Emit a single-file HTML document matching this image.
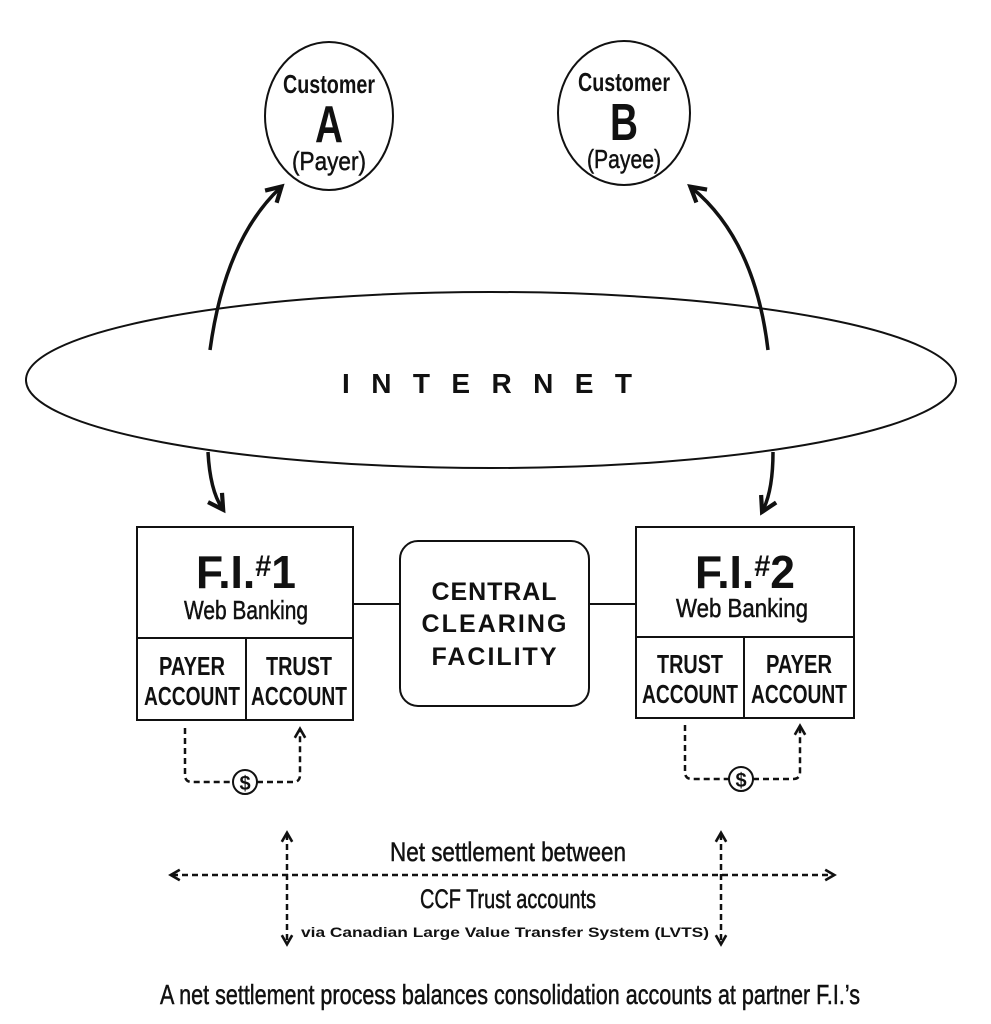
<!DOCTYPE html>
<html><head><meta charset="utf-8"><style>html,body{margin:0;padding:0;background:#fff}svg{display:block}text{font-family:"Liberation Sans",sans-serif;fill:#111}.n{font-weight:normal;stroke:#111;stroke-width:0.5}</style></head><body>
<svg width="991" height="1024" viewBox="0 0 991 1024" xmlns="http://www.w3.org/2000/svg">
<defs>
<marker id="ah" viewBox="0 0 10 10" refX="7" refY="5" markerWidth="6" markerHeight="6" orient="auto"><path d="M1,1 L8,5 L1,9" fill="none" stroke="#111" stroke-width="2"/></marker>
<marker id="sh" viewBox="0 0 10 10" refX="7" refY="5" markerWidth="13" markerHeight="13" orient="auto-start-reverse" markerUnits="userSpaceOnUse"><path d="M1,1 L8,5 L1,9" fill="none" stroke="#111" stroke-width="2"/></marker>
</defs>
<g fill="none" stroke="#111" stroke-width="2">
<ellipse cx="329" cy="116" rx="64" ry="74"/>
<ellipse cx="624" cy="113" rx="66" ry="72"/>
<ellipse cx="491" cy="380" rx="465" ry="88"/>
<path d="M210,350 Q225,240 280,188" stroke-width="3.5" marker-end="url(#ah)"/>
<path d="M768,350 Q755,240 692,188" stroke-width="3.5" marker-end="url(#ah)"/>
<path d="M208,452 Q210,490 222,508" stroke-width="3.5" marker-end="url(#ah)"/>
<path d="M773,452 Q773,490 763,510" stroke-width="3.5" marker-end="url(#ah)"/>
<rect x="137" y="527" width="216" height="193"/>
<line x1="137" y1="638" x2="353" y2="638"/><line x1="246" y1="638" x2="246" y2="720"/>
<rect x="636" y="527" width="218" height="191"/>
<line x1="636" y1="637" x2="854" y2="637"/><line x1="744" y1="637" x2="744" y2="718"/>
<rect x="400" y="541" width="189" height="165" rx="18"/>
<line x1="353" y1="604" x2="400" y2="604"/><line x1="589" y1="604" x2="636" y2="604"/>
<g stroke-dasharray="6,4" stroke-width="2.5">
<path d="M185,728 V775 Q185,782 192,782 H233"/>
<path d="M257,782 H293 Q300,782 300,775 V730" marker-end="url(#sh)"/>
<path d="M685,725 V772 Q685,779 692,779 H729"/>
<path d="M753,779 H793 Q800,779 800,772 V727" marker-end="url(#sh)"/>
<line x1="172" y1="875" x2="833" y2="875" marker-start="url(#sh)" marker-end="url(#sh)"/>
<line x1="287" y1="834" x2="287" y2="943" marker-start="url(#sh)" marker-end="url(#sh)"/>
<line x1="721" y1="834" x2="721" y2="943" marker-start="url(#sh)" marker-end="url(#sh)"/>
</g>
<circle cx="245" cy="782" r="12"/>
<circle cx="741" cy="779" r="12"/>
</g>
<g font-weight="bold" text-anchor="middle">
<text x="329" y="93" font-size="26" textLength="92" lengthAdjust="spacingAndGlyphs">Customer</text>
<text x="329" y="142" font-size="52" textLength="28" lengthAdjust="spacingAndGlyphs">A</text>
<text x="329" y="170" font-size="26" class="n" textLength="74" lengthAdjust="spacingAndGlyphs">(Payer)</text>
<text x="624" y="91" font-size="26" textLength="92" lengthAdjust="spacingAndGlyphs">Customer</text>
<text x="624" y="140" font-size="52" textLength="28" lengthAdjust="spacingAndGlyphs">B</text>
<text x="624" y="168" font-size="26" class="n" textLength="74" lengthAdjust="spacingAndGlyphs">(Payee)</text>
<text x="487" y="393" font-size="28" textLength="290" lengthAdjust="spacing">INTERNET</text>
<text x="246" y="588" font-size="46" textLength="100" lengthAdjust="spacingAndGlyphs">F.I.<tspan font-size="30" dy="-12">#</tspan><tspan dy="12">1</tspan></text>
<text x="246" y="619" font-size="26" class="n" textLength="124" lengthAdjust="spacingAndGlyphs">Web Banking</text>
<text x="745" y="588" font-size="46" textLength="100" lengthAdjust="spacingAndGlyphs">F.I.<tspan font-size="30" dy="-12">#</tspan><tspan dy="12">2</tspan></text>
<text x="742" y="617" font-size="26" class="n" textLength="132" lengthAdjust="spacingAndGlyphs">Web Banking</text>
<text x="192" y="675" font-size="26" textLength="66" lengthAdjust="spacingAndGlyphs">PAYER</text>
<text x="192" y="705" font-size="26" textLength="96" lengthAdjust="spacingAndGlyphs">ACCOUNT</text>
<text x="299" y="675" font-size="26" textLength="66" lengthAdjust="spacingAndGlyphs">TRUST</text>
<text x="299" y="705" font-size="26" textLength="96" lengthAdjust="spacingAndGlyphs">ACCOUNT</text>
<text x="690" y="673" font-size="26" textLength="66" lengthAdjust="spacingAndGlyphs">TRUST</text>
<text x="690" y="703" font-size="26" textLength="96" lengthAdjust="spacingAndGlyphs">ACCOUNT</text>
<text x="799" y="673" font-size="26" textLength="66" lengthAdjust="spacingAndGlyphs">PAYER</text>
<text x="799" y="703" font-size="26" textLength="96" lengthAdjust="spacingAndGlyphs">ACCOUNT</text>
<text x="494" y="600" font-size="25" textLength="125" lengthAdjust="spacing">CENTRAL</text>
<text x="494" y="632" font-size="25" textLength="145" lengthAdjust="spacing">CLEARING</text>
<text x="494" y="665" font-size="25" textLength="125" lengthAdjust="spacing">FACILITY</text>
<text x="245" y="790" font-size="20">$</text>
<text x="741" y="787" font-size="20">$</text>
<text x="508" y="861" font-size="27" class="n" textLength="236" lengthAdjust="spacingAndGlyphs">Net settlement between</text>
<text x="508" y="908" font-size="27" class="n" textLength="176" lengthAdjust="spacingAndGlyphs">CCF Trust accounts</text>
<text x="505" y="937" font-size="14" textLength="408" lengthAdjust="spacingAndGlyphs">via Canadian Large Value Transfer System (LVTS)</text>
<text x="510" y="1004" font-size="28" class="n" textLength="700" lengthAdjust="spacingAndGlyphs">A net settlement process balances consolidation accounts at partner F.I.’s</text>
</g>
</svg>
</body></html>
